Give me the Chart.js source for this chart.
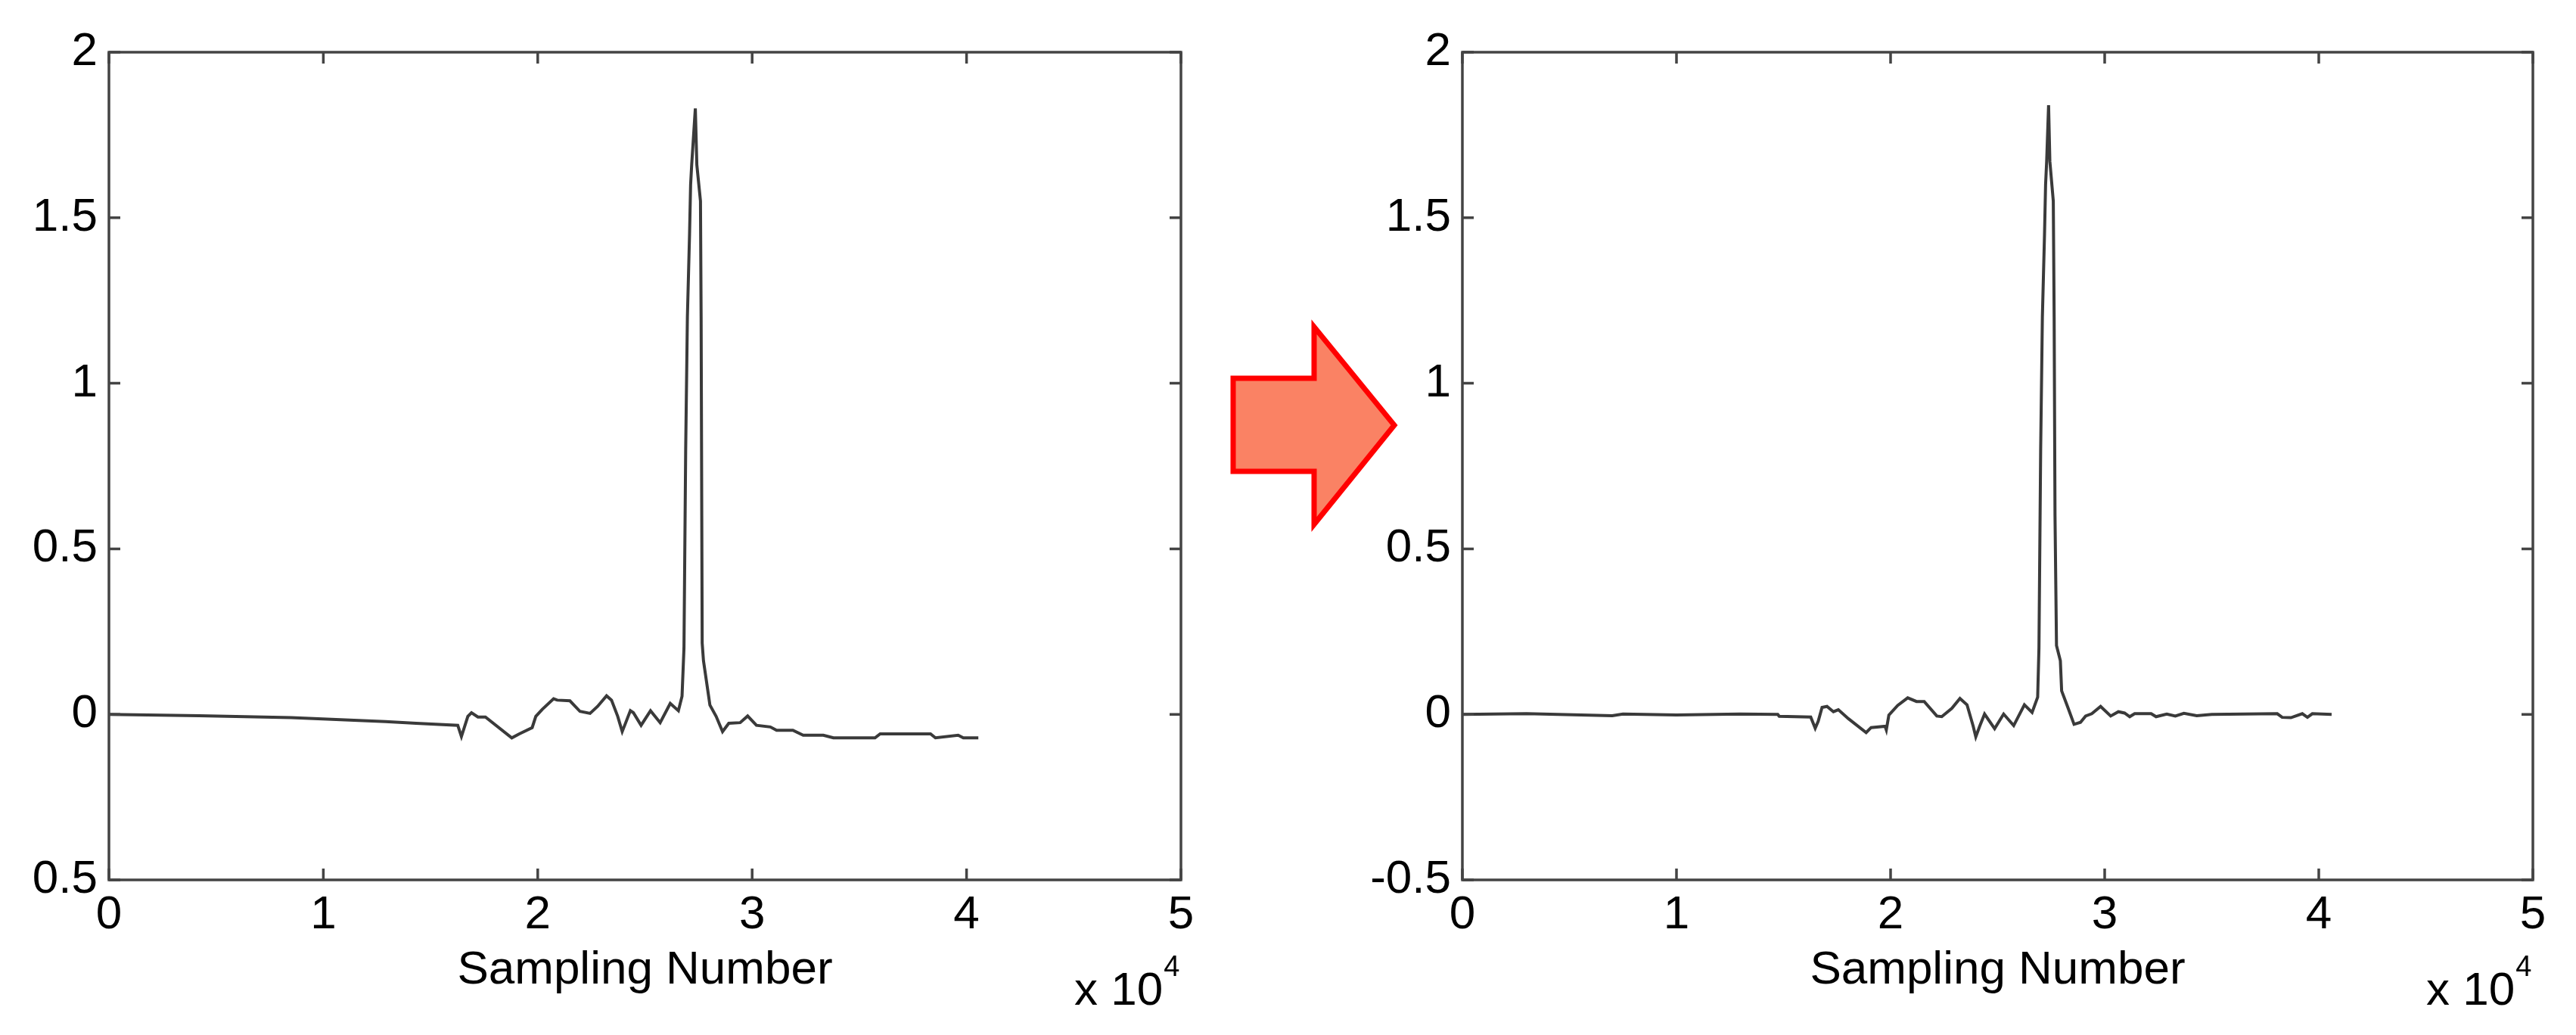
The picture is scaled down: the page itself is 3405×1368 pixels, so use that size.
<!DOCTYPE html>
<html>
<head>
<meta charset="utf-8">
<script src="https://cdn.jsdelivr.net/npm/chart.js@4.4.1/dist/chart.umd.min.js"></script>
<style>
  html, body { margin: 0; padding: 0; background: #fff; }
  #page { position: relative; width: 3405px; height: 1368px; overflow: hidden; }
  canvas { position: absolute; top: 0; }
  #rawChart { left: 0; }
  #fixedChart { left: 1760px; }
  #arrow { position: absolute; left: 0; top: 0; pointer-events: none; }
</style>
</head>
<body>
<div id="page">
  <canvas id="rawChart" width="1700" height="1368"></canvas>
  <canvas id="fixedChart" width="1645" height="1368"></canvas>
  <svg id="arrow" width="3405" height="1368">
    <polygon points="1630,500 1737,500 1737,432 1843,562 1737,693 1737,623 1630,623"
             fill="#fa8264" stroke="#ff0000" stroke-width="7" stroke-linejoin="miter"/>
  </svg>
</div>
<script>
// axis ticks
const sampleTicks = [0, 10000, 20000, 30000, 40000, 50000];
const xTickLabels = ['0', '1', '2', '3', '4', '5'];
const yTickValues = [-0.5, 0, 0.5, 1, 1.5, 2];
const rawYTickLabels = ['0.5', '0', '0.5', '1', '1.5', '2'];
const fixedYTickLabels = ['-0.5', '0', '0.5', '1', '1.5', '2'];

// before baseline correction (left)
const rawSamples = [0, 4200, 8500, 12900, 14330, 16270, 16440, 16740, 16910, 17210,
  17560, 18790, 19140, 19740, 19910, 20210, 20740, 20910, 21500, 21970,
  22440, 22790, 23210, 23440, 23730, 23940, 24080, 24320, 24460, 24820,
  25260, 25710, 26180, 26560, 26730, 26820, 26900, 26980, 27080, 27130,
  27180, 27350, 27420, 27590, 27620, 27650, 27670, 27730, 27970, 28030,
  28320, 28620, 28910, 29440, 29790, 30200, 30850, 31140, 31900, 32380,
  33320, 33790, 35730, 35970, 38320, 38550, 39610, 39850, 40550];
const rawSignal = [0, -0.004, -0.01, -0.022, -0.027, -0.033, -0.067, -0.006, 0.005, -0.008,
  -0.008, -0.071, -0.059, -0.040, -0.006, 0.015, 0.047, 0.043, 0.041, 0.009,
  0.003, 0.024, 0.056, 0.043, -0.006, -0.052, -0.029, 0.011, 0.005, -0.033,
  0.011, -0.025, 0.033, 0.011, 0.055, 0.20, 0.80, 1.20, 1.45, 1.60,
  1.66, 1.83, 1.66, 1.55, 1.20, 0.60, 0.215, 0.162, 0.055, 0.028,
  -0.006, -0.052, -0.027, -0.025, -0.005, -0.033, -0.038, -0.048, -0.048, -0.063,
  -0.063, -0.071, -0.071, -0.059, -0.059, -0.071, -0.063, -0.071, -0.071];

// after baseline correction (right)
const fixedSamples = [0, 3000, 7000, 7500, 10000, 12970, 14730, 14800, 16270, 16480,
  16620, 16800, 17030, 17330, 17560, 18030, 18860, 19090, 19740, 19800,
  19920, 20330, 20800, 21210, 21570, 22160, 22390, 22860, 23240, 23570,
  23860, 23980, 24160, 24390, 24860, 25280, 25750, 26250, 26610, 26870,
  26930, 27010, 27090, 27190, 27240, 27290, 27380, 27440, 27600, 27640,
  27680, 27750, 27930, 27990, 28280, 28570, 28870, 29110, 29400, 29810,
  30280, 30640, 30930, 31170, 31400, 32170, 32400, 32900, 33300, 33700,
  34300, 35000, 38060, 38290, 38700, 39230, 39470, 39700, 40600];
const fixedSignal = [0, 0.002, -0.004, 0.001, -0.002, 0.001, 0.0, -0.006, -0.008, -0.042,
  -0.021, 0.021, 0.024, 0.008, 0.014, -0.013, -0.055, -0.040, -0.036, -0.047,
  -0.002, 0.027, 0.050, 0.039, 0.039, -0.005, -0.007, 0.018, 0.048, 0.029,
  -0.036, -0.068, -0.036, 0.001, -0.043, 0.001, -0.034, 0.029, 0.006, 0.052,
  0.20, 0.80, 1.20, 1.45, 1.60, 1.67, 1.84, 1.67, 1.55, 1.20,
  0.60, 0.208, 0.162, 0.071, 0.021, -0.030, -0.024, -0.005, 0.002, 0.024,
  -0.005, 0.008, 0.004, -0.007, 0.002, 0.002, -0.007, 0.001, -0.005, 0.003,
  -0.004, 0.0, 0.002, -0.009, -0.010, 0.002, -0.009, 0.002, 0.0];

const FONT = '"Liberation Sans", Arial, sans-serif';
const TICK_LEN = 15;
Chart.defaults.font.family = FONT;
Chart.defaults.color = '#000';

// matlab style box with inward ticks + the "x 10^4" exponent
const boxPlugin = {
  id: 'matlabBox',
  afterDraw(chart) {
    const { ctx, chartArea: a, scales: { x, y } } = chart;
    ctx.save();
    ctx.strokeStyle = '#444';
    ctx.lineWidth = 3.5;
    ctx.strokeRect(a.left, a.top, a.right - a.left, a.bottom - a.top);
    ctx.beginPath();
    x.ticks.forEach(t => {
      const px = x.getPixelForValue(t.value);
      ctx.moveTo(px, a.bottom); ctx.lineTo(px, a.bottom - TICK_LEN);
      ctx.moveTo(px, a.top); ctx.lineTo(px, a.top + TICK_LEN);
    });
    y.ticks.forEach(t => {
      const py = y.getPixelForValue(t.value);
      ctx.moveTo(a.left, py); ctx.lineTo(a.left + TICK_LEN, py);
      ctx.moveTo(a.right, py); ctx.lineTo(a.right - TICK_LEN, py);
    });
    ctx.stroke();

    ctx.fillStyle = '#000';
    ctx.textBaseline = 'alphabetic';
    ctx.textAlign = 'left';
    ctx.font = '62px ' + FONT;
    const startX = a.right - 141;
    ctx.fillText('x 10', startX, 1328);
    const w = ctx.measureText('x 10').width;
    ctx.font = '38px ' + FONT;
    ctx.fillText('4', startX + w + 1, 1290);
    ctx.restore();
  }
};

function pairUp(xs, ys) {
  return xs.map((v, i) => ({ x: v, y: ys[i] }));
}

function pickLabel(values, labels, v) {
  const i = values.findIndex(t => Math.abs(t - v) < 1e-9);
  return i < 0 ? '' : labels[i];
}

function makeChart(id, xs, ys, yLabels, axisWidth, padRight) {
  return new Chart(document.getElementById(id), {
    type: 'line',
    data: {
      datasets: [{
        data: pairUp(xs, ys),
        borderColor: '#3a3a3a',
        borderWidth: 4,
        pointRadius: 0,
        tension: 0,
        fill: false
      }]
    },
    options: {
      responsive: false,
      animation: false,
      events: [],
      layout: { padding: { top: 69, right: padRight, left: 0, bottom: 0 } },
      plugins: { legend: { display: false }, tooltip: { enabled: false } },
      scales: {
        x: {
          type: 'linear',
          min: sampleTicks[0],
          max: sampleTicks[sampleTicks.length - 1],
          grid: { display: false, drawTicks: false, tickLength: 0 },
          border: { display: false },
          afterFit: s => { s.height = 205; },
          ticks: {
            stepSize: 10000,
            autoSkip: false,
            maxRotation: 0,
            padding: 10,
            font: { size: 62 },
            callback: v => pickLabel(sampleTicks, xTickLabels, v)
          },
          title: {
            display: true,
            text: 'Sampling Number',
            font: { size: 62 },
            padding: { top: 0, bottom: 48 }
          }
        },
        y: {
          min: yTickValues[0],
          max: yTickValues[yTickValues.length - 1],
          grid: { display: false, drawTicks: false, tickLength: 0 },
          border: { display: false },
          afterFit: s => { s.width = axisWidth; },
          ticks: {
            stepSize: 0.5,
            autoSkip: false,
            padding: 15,
            font: { size: 62 },
            callback: v => pickLabel(yTickValues, yLabels, v)
          }
        }
      }
    },
    plugins: [boxPlugin]
  });
}

makeChart('rawChart', rawSamples, rawSignal, rawYTickLabels, 144, 139);
makeChart('fixedChart', fixedSamples, fixedSignal, fixedYTickLabels, 173, 57);
</script>
</body>
</html>
